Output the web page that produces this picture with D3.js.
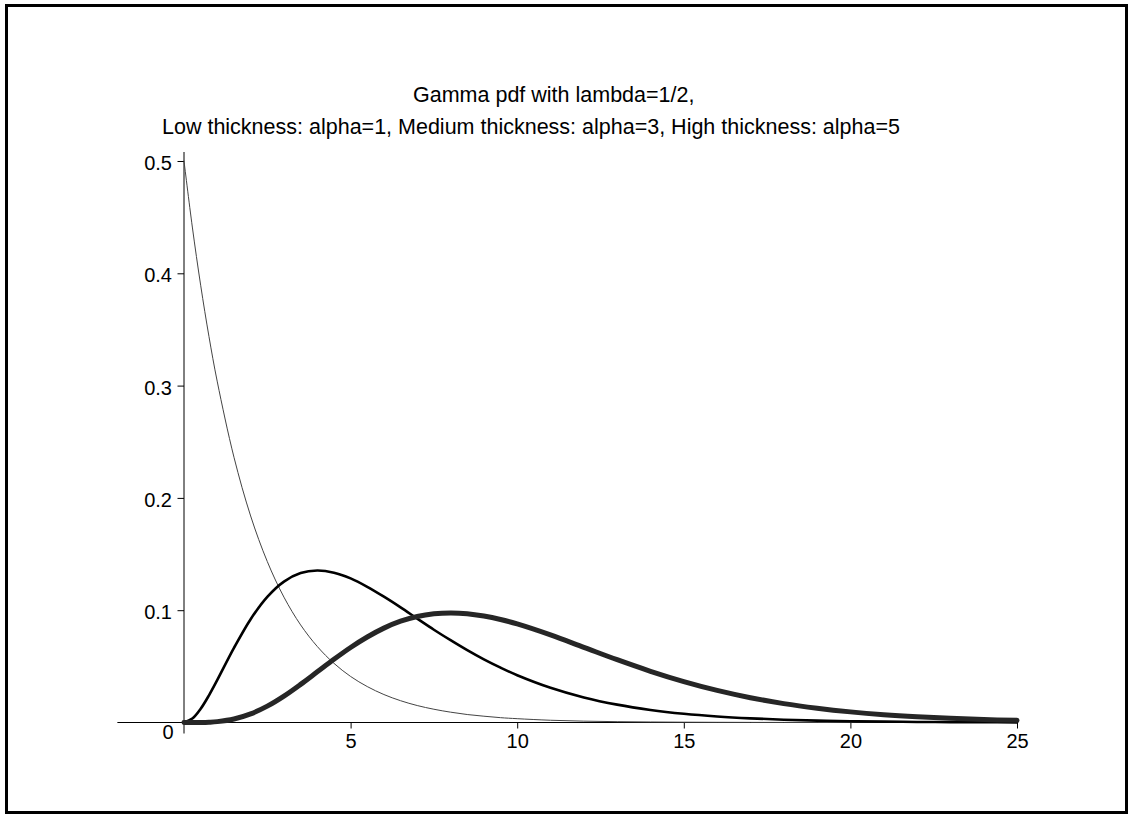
<!DOCTYPE html>
<html>
<head>
<meta charset="utf-8">
<script src="https://cdn.jsdelivr.net/npm/d3@7"></script>
<style>
  html, body { margin: 0; padding: 0; background: #fff; }
  svg { display: block; }
  text { font-family: "Liberation Sans", Arial, sans-serif; fill: #000; }
</style>
</head>
<body>
<svg id="chart" width="1129" height="817"></svg>
<script>
// ---- data ----
const titleLines = [
  "Gamma pdf with lambda=1/2,",
  "Low thickness: alpha=1, Medium thickness: alpha=3, High thickness: alpha=5"
];
const xValues = [0,0.25,0.5,0.75,1,1.5,2,2.5,3,3.5,4,4.5,5,5.5,6,6.5,7,7.5,8,8.5,9,9.5,10,
                 11,12,13,14,15,16,17,18,19,20,21,22,23,24,25];
const alpha1 = [0.5,0.4412,0.3894,0.3436,0.3033,0.2362,0.1839,0.1433,0.1116,0.0869,0.0677,0.0527,0.0410,
                0.0320,0.0249,0.0194,0.0151,0.0118,0.0092,0.0071,0.0056,0.0043,0.0034,
                0.0020,0.0012,0.00075,0.00046,0.00028,0.00017,0.0001,0.00006,0.00004,0.00002,
                0.00001,0.00001,0.00001,0,0];
const alpha3 = [0,0.0035,0.0122,0.0242,0.0379,0.0664,0.0920,0.1119,0.1255,0.1331,0.1353,0.1334,0.1283,
                0.1208,0.1120,0.1025,0.0925,0.0826,0.0733,0.0644,0.0562,0.0488,0.0421,
                0.0309,0.0223,0.0159,0.0112,0.0078,0.0054,0.0037,0.0025,0.0017,0.0011,
                0.00076,0.00051,0.00033,0.00022,0.00015];
const alpha5 = [0,0.000005,0.00006,0.00028,0.00079,0.00311,0.00766,0.01457,0.02353,0.03396,0.04511,0.05628,0.06681,
                0.07614,0.08404,0.09018,0.09441,0.09682,0.09760,0.09692,0.09482,0.09174,0.08776,
                0.07797,0.06696,0.05590,0.04562,0.03645,0.02859,0.02208,0.01681,0.01271,0.00946,
                0.00696,0.00509,0.00368,0.00265,0.0019];
const xMajorTicks = [5,10,15,20,25];
const xMinorTicks = d3.range(-2, 26, 1);
const yMajorTicks = [0.1,0.2,0.3,0.4,0.5];
const yMinorTicks = d3.range(0.02, 0.5001, 0.02);

const series = [
  {name: "alpha=1", values: alpha1, width: 1,   color: "#444"},
  {name: "alpha=3", values: alpha3, width: 2.6, color: "#000"},
  {name: "alpha=5", values: alpha5, width: 5,   color: "#262626"}
];

// ---- layout ----
const svg = d3.select("#chart");
const x = d3.scaleLinear().domain([0, 25]).range([184, 1017]);
const y = d3.scaleLinear().domain([0, 0.5]).range([722.5, 161]);
const tickFont = 20;

// frame
svg.append("rect")
  .attr("x", 6.5).attr("y", 5.5).attr("width", 1120).attr("height", 807)
  .attr("fill", "none").attr("stroke", "#000").attr("stroke-width", 3);

// title
svg.append("text").attr("x", 413).attr("y", 102)
  .attr("font-size", 21.5).attr("text-anchor", "start").text(titleLines[0]);
svg.append("text").attr("x", 162).attr("y", 134)
  .attr("font-size", 21.5).attr("text-anchor", "start")
  .attr("textLength", 738).attr("lengthAdjust", "spacingAndGlyphs")
  .text(titleLines[1]);

// axes
const gx = svg.append("g").attr("transform", `translate(0,${y(0)})`);
gx.call(d3.axisBottom(x).tickValues(xMinorTicks).tickSize(3).tickFormat(""))
  .call(g => g.select(".domain").remove());
gx.call(d3.axisBottom(x).tickValues(xMajorTicks).tickSize(6).tickPadding(5.3)
        .tickFormat(d3.format("d")))
  .call(g => g.select(".domain").remove());
gx.selectAll("text").attr("font-size", tickFont)
  .attr("font-family", "Liberation Sans, Arial, sans-serif").attr("fill", "#000");
gx.selectAll("line").attr("stroke", "#000");
gx.append("line").attr("x1", x(-2)).attr("x2", x(25)).attr("y1", 0).attr("y2", 0)
  .attr("stroke", "#000").attr("stroke-width", 1);

const gy = svg.append("g").attr("transform", `translate(${x(0)},0)`);
gy.call(d3.axisLeft(y).tickValues(yMinorTicks).tickSize(3).tickFormat(""))
  .call(g => g.select(".domain").remove());
gy.call(d3.axisLeft(y).tickValues(yMajorTicks).tickSize(6.5).tickPadding(5.5)
        .tickFormat(d3.format(".1f")))
  .call(g => g.select(".domain").remove());
gy.selectAll("text").attr("font-size", tickFont)
  .attr("font-family", "Liberation Sans, Arial, sans-serif")
  .attr("fill", "#000").attr("dy", "0.43em");
gy.selectAll("line").attr("stroke", "#000");
gy.append("line").attr("x1", 0).attr("x2", 0).attr("y1", y(0.5) - 9).attr("y2", y(0) + 11)
  .attr("stroke", "#000").attr("stroke-width", 1);

// origin label
svg.append("text").attr("x", x(0) - 16).attr("y", y(0) + 16.5)
  .attr("font-size", tickFont).attr("text-anchor", "middle").text("0");

// curves
const line = d3.line()
  .x((d, i) => x(xValues[i]))
  .y(d => y(d))
  .curve(d3.curveCatmullRom.alpha(0.5));

svg.append("g").selectAll("path").data(series).join("path")
  .attr("d", s => line(s.values))
  .attr("fill", "none")
  .attr("stroke", s => s.color)
  .attr("stroke-width", s => s.width)
  .attr("stroke-linejoin", "round")
  .attr("stroke-linecap", "round");
</script>
</body>
</html>
